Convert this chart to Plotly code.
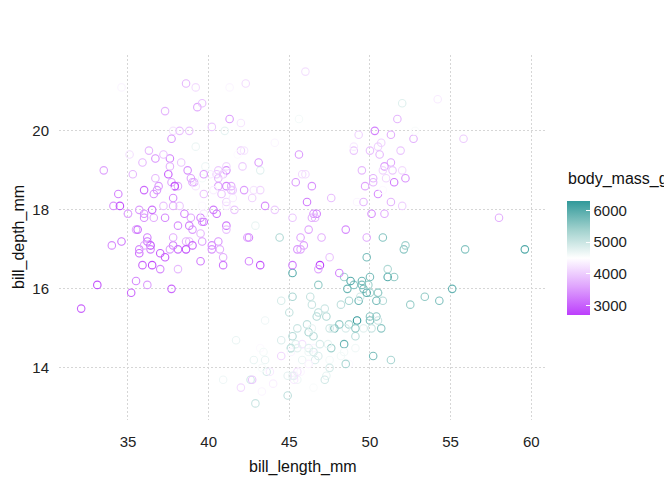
import plotly.graph_objects as go

# ---------------- data (Adelie, Gentoo, Chinstrap in plotting order) ----------------
adelie_length = [39.1,39.5,40.3,36.7,39.3,38.9,39.2,34.1,42.0,37.8,37.8,41.1,38.6,34.6,36.6,38.7,42.5,34.4,46.0,
    37.8,37.7,35.9,38.2,38.8,35.3,40.6,40.5,37.9,40.5,
    39.5,37.2,39.5,40.9,36.4,39.2,38.8,42.2,37.6,39.8,36.5,40.8,36.0,44.1,37.0,39.6,41.1,37.5,36.0,42.3,
    39.6,40.1,35.0,42.0,34.5,41.4,39.0,40.6,36.5,37.6,35.7,41.3,37.6,41.1,36.4,41.6,35.5,41.1,
    35.9,41.8,33.5,39.7,39.6,45.8,35.5,42.8,40.9,37.2,36.2,42.1,34.6,42.9,36.7,35.1,
    37.3,41.3,36.3,36.9,38.3,38.9,35.7,41.1,34.0,39.6,36.2,40.8,38.1,40.3,33.1,43.2,
    35.0,41.0,37.7,37.8,37.9,39.7,38.6,38.2,38.1,43.2,38.1,45.6,39.7,42.2,39.6,42.7,
    38.6,37.3,35.7,41.1,36.2,37.7,40.2,41.4,35.2,40.6,38.8,41.5,39.0,44.1,38.5,43.1,
    36.8,37.5,38.1,41.1,35.6,40.2,37.0,39.7,40.2,40.6,32.1,40.7,37.3,39.0,39.2,36.6,36.0,37.8,36.0,41.5]
adelie_depth = [18.7,17.4,18.0,19.3,20.6,17.8,19.6,18.1,20.2,17.1,17.3,17.6,21.2,21.1,17.8,19.0,20.7,18.4,21.5,
    18.3,18.7,19.2,18.1,17.2,18.9,18.6,17.9,18.6,18.9,
    16.7,18.1,17.8,18.9,17.0,21.1,20.0,18.5,19.3,19.1,18.0,18.4,18.5,19.7,16.9,18.8,19.0,18.9,17.9,21.2,
    17.7,18.9,17.9,19.5,18.1,18.6,17.5,18.8,16.6,19.1,16.9,21.1,17.0,18.2,17.1,18.0,16.2,19.1,
    16.6,19.4,19.0,18.4,17.2,18.9,17.5,18.5,16.8,19.4,16.1,19.1,17.2,17.6,18.8,19.4,
    17.8,20.3,19.5,18.6,19.2,18.8,18.0,18.1,17.1,18.1,17.3,18.9,18.6,18.5,16.1,18.5,
    17.9,20.0,16.0,20.0,18.6,18.9,17.2,20.0,17.0,19.0,16.5,20.3,17.7,19.5,20.7,18.3,
    17.0,20.5,17.0,18.6,17.2,19.8,17.0,18.5,15.9,19.0,17.6,18.3,17.1,18.0,17.9,19.2,
    18.5,18.5,17.6,17.5,17.5,20.1,16.5,17.9,17.1,17.2,15.5,17.0,16.8,18.7,18.6,18.4,17.8,18.1,17.1,18.5]
adelie_mass = [3750,3800,3250,3450,3650,3625,4675,3475,4250,3300,3700,3200,3800,4400,3700,3450,4500,3325,4200,
    3400,3600,3800,3950,3800,3800,3550,3200,3150,3950,
    3250,3900,3300,3900,3325,4150,3950,3550,3300,4650,3150,3900,3100,4400,3000,4600,3425,2975,3450,4150,
    3500,4300,3450,4050,2900,3700,3550,3800,2850,3750,3150,4400,3600,4050,2850,3950,3350,4100,
    3050,4450,3600,3900,3550,4150,3700,4250,3700,3900,3550,4000,3200,4700,3800,4200,
    3350,3550,3800,3500,3950,3600,3550,4300,3400,4450,3300,4300,3700,4350,2900,4100,
    3725,4725,3075,4250,2925,3550,3750,3900,3175,4775,3825,4600,3200,4275,3900,4075,
    2900,3775,3350,3325,3150,3500,3450,3875,3050,4000,3275,4300,3050,4000,3325,3500,
    3500,4475,3425,3900,3175,3975,3400,4250,3400,3475,3050,3725,3000,3650,4250,3475,3450,3750,3700,4000]

gentoo_length = [46.1,50.0,48.7,50.0,47.6,46.5,45.4,46.7,43.3,46.8,40.9,49.0,45.5,48.4,45.8,49.3,42.0,49.2,46.2,48.7,
    50.2,45.1,46.5,46.3,42.9,46.1,44.5,47.8,48.2,50.0,47.3,42.8,45.1,59.6,
    49.1,48.4,42.6,44.4,44.0,48.7,42.7,49.6,45.3,49.6,50.5,43.6,45.5,50.5,44.9,45.2,46.6,48.5,45.1,50.1,
    46.5,45.0,43.8,45.5,43.2,50.4,45.3,46.2,45.7,54.3,45.8,49.8,46.2,49.5,43.5,50.7,47.7,46.4,48.2,46.5,
    46.4,48.6,47.5,51.1,45.2,45.2,
    49.1,52.5,47.4,50.0,44.9,50.8,43.4,51.3,47.5,52.1,47.5,52.2,45.5,49.5,44.5,50.8,49.4,46.9,48.4,51.1,
    48.5,55.9,47.2,49.1,47.3,46.8,41.7,53.4,43.3,48.1,50.5,49.8,43.5,51.5,46.2,55.1,44.5,48.8,47.2,46.8,
    50.4,45.2,49.9]
gentoo_depth = [13.2,16.3,14.1,15.2,14.5,13.5,14.6,15.3,13.4,15.4,13.7,16.1,13.7,14.6,14.6,15.7,13.5,15.2,14.5,15.1,
    14.3,14.5,14.5,15.8,13.1,15.1,14.3,15.0,14.3,15.3,15.3,14.2,14.5,17.0,
    14.8,16.3,13.7,17.3,13.6,15.7,13.7,16.0,13.7,15.0,15.9,13.9,13.9,15.9,13.3,15.8,14.2,14.1,14.4,15.0,
    14.4,15.4,13.9,15.0,14.5,15.3,13.8,14.9,13.9,15.7,14.2,16.8,14.4,16.2,14.2,15.0,15.0,15.6,15.6,14.8,
    15.0,16.0,14.2,16.3,13.8,16.4,
    14.5,15.6,14.6,15.9,13.8,17.3,14.4,14.2,14.0,17.0,15.0,17.1,14.5,16.1,14.7,15.7,15.8,14.6,14.4,16.5,
    15.0,17.0,15.5,15.0,13.8,16.1,14.7,15.8,14.0,15.1,15.2,15.9,15.2,16.3,14.1,16.0,15.7,16.2,13.7,14.3,
    15.7,14.8,16.1]
gentoo_mass = [4500,5700,4450,5700,5400,4550,4800,5200,4400,5150,4650,5550,4650,5850,4200,5850,4150,6300,4800,5350,
    5700,5000,4400,5050,5000,5100,4100,5650,4600,5550,5250,4700,5050,6050,
    5150,5400,4950,5250,4350,5350,3950,5700,4300,4750,5550,4900,4200,5400,5100,5300,4850,5300,4400,5000,
    4900,5050,4300,5000,4450,5550,4200,5300,4400,5650,4700,5700,4650,5800,4700,5550,4750,5000,5100,5200,
    4700,5800,4600,6000,4750,5950,
    4625,5450,4725,5350,4750,5600,4600,5300,4875,5550,4950,5400,4750,5650,4850,5200,4925,4875,4625,5250,
    4850,5600,4975,5500,4725,5500,4700,5500,4575,5500,5000,5950,4650,5500,4375,5850,4875,6000,4925,4850,
    5750,5200,5400]

chinstrap_length = [46.5,50.0,51.3,45.4,52.7,45.2,46.1,51.3,46.0,51.3,46.6,51.7,47.0,52.0,45.9,50.5,50.3,58.0,46.4,49.2,
    42.4,48.5,43.2,50.6,46.7,52.0,
    50.5,49.5,46.4,52.8,40.9,54.2,42.5,51.0,49.7,47.5,47.6,52.0,46.9,53.5,49.0,46.2,50.9,45.5,
    50.9,50.8,50.1,49.0,51.5,49.8,48.1,51.4,45.7,50.7,42.5,52.2,45.2,49.3,50.2,45.6,51.9,46.8,45.7,55.8,
    43.5,49.6,50.8,50.2]
chinstrap_depth = [17.9,19.5,19.2,18.7,19.8,17.8,18.2,18.2,18.9,19.9,17.8,20.3,17.3,18.1,17.1,19.6,20.0,17.8,18.6,18.2,
    17.3,17.5,16.6,19.4,17.9,19.0,
    18.4,19.0,17.8,20.0,16.6,20.8,16.7,18.8,18.6,16.8,18.3,20.7,16.6,19.9,19.5,17.5,19.1,17.0,
    17.9,18.5,17.9,19.6,18.7,17.3,16.4,19.0,17.3,19.7,17.3,18.8,16.6,19.9,18.8,19.4,19.5,16.5,17.0,19.8,
    18.1,18.2,19.0,18.7]
chinstrap_mass = [3500,3900,3650,3525,3725,3950,3250,3750,4150,3700,3800,3775,3700,4050,3575,4050,3300,3700,3450,4400,
    3600,3400,2900,3800,3300,4150,
    3400,3800,3700,4550,3200,4300,3350,4100,3600,3900,3850,4800,2700,4500,3950,3650,3550,3500,
    3675,4450,3400,4300,3250,3675,3325,3950,3600,4050,3350,3450,3250,4050,3750,3525,3950,3650,3650,4000,
    3400,3775,4100,3775]

x_ticks = [35, 40, 45, 50, 55, 60]
y_ticks = [14, 16, 18, 20]
mass_ticks = [3000, 4000, 5000, 6000]

bill_length = adelie_length + gentoo_length + chinstrap_length
bill_depth = adelie_depth + gentoo_depth + chinstrap_depth
body_mass = adelie_mass + gentoo_mass + chinstrap_mass

# ---------------- scales ----------------
def expand(lo, hi, f=0.05):
    d = (hi - lo) * f
    return [lo - d, hi + d]

xr = expand(min(bill_length), max(bill_length))
yr = expand(min(bill_depth), max(bill_depth))
cmin, cmax = min(body_mass), max(body_mass)

colorscale = [
    [0.0, "#BC3EFC"],
    [0.25, "#DFA4FD"],
    [0.5, "#FFFFFF"],
    [0.75, "#A0D1CD"],
    [1.0, "#31999A"],
]

FONT = "Liberation Sans, Arial, sans-serif"
OFF = 8                      # page body margin of the browser
W, H = 672 - OFF, 480 - OFF
# panel in page pixels: x 59..547, y 55..420
L, R, T, B = 59 - OFF, 672 - 547, 55 - OFF, 480 - 420
pw, ph = W - L - R, H - T - B

def px_x(p):                 # page pixel -> paper x
    return (p - OFF - L) / pw

def px_y(p):                 # page pixel -> paper y
    return (H - B - (p - OFF)) / ph

fig = go.Figure(
    go.Scatter(
        x=bill_length,
        y=bill_depth,
        mode="markers",
        showlegend=False,
        hoverinfo="skip",
        marker=dict(
            symbol="circle-open",
            size=7.5,
            color=body_mass,
            colorscale=colorscale,
            cmin=cmin,
            cmax=cmax,
            line=dict(width=1.1),
            colorbar=dict(
                x=px_x(567), xanchor="left", xpad=0,
                y=px_y(258), yanchor="middle", ypad=0,
                lenmode="pixels", len=114,
                thickness=23, outlinewidth=0,
                tickvals=mass_ticks,
                ticks="inside", ticklen=4, tickcolor="white", tickwidth=1,
                tickfont=dict(family=FONT, size=15, color="#222222"),
            ),
        ),
    )
)

fig.update_layout(
    width=W, height=H,
    margin=dict(l=L, r=R, t=T, b=B, autoexpand=False),
    paper_bgcolor="white", plot_bgcolor="white",
    font=dict(family=FONT, size=15, color="#222222"),
    xaxis=dict(
        range=xr, tickvals=x_ticks, showgrid=True, gridcolor="#D6D6D6",
        griddash="2px,2px", gridwidth=1, zeroline=False, showline=False,
        ticks="outside", ticklen=8, tickcolor="rgba(0,0,0,0)",
        tickfont=dict(family=FONT, size=15, color="#222222"),
    ),
    yaxis=dict(
        range=yr, tickvals=y_ticks, showgrid=True, gridcolor="#D6D6D6",
        griddash="2px,2px", gridwidth=1, zeroline=False, showline=False,
        ticks="outside", ticklen=6, tickcolor="rgba(0,0,0,0)",
        tickfont=dict(family=FONT, size=15, color="#222222"),
    ),
    annotations=[
        dict(text="bill_length_mm", xref="paper", yref="paper",
             x=px_x(303), y=px_y(467), xanchor="center", yanchor="middle",
             showarrow=False, font=dict(family=FONT, size=16, color="#111111")),
        dict(text="bill_depth_mm", xref="paper", yref="paper",
             x=px_x(19), y=px_y(237), xanchor="center", yanchor="middle",
             textangle=-90, showarrow=False,
             font=dict(family=FONT, size=16, color="#111111")),
        dict(text="body_mass_g", xref="paper", yref="paper",
             x=px_x(566), y=px_y(179), xanchor="left", yanchor="middle",
             showarrow=False, font=dict(family=FONT, size=16, color="#111111")),
    ],
)

fig.write_html("out.html")
